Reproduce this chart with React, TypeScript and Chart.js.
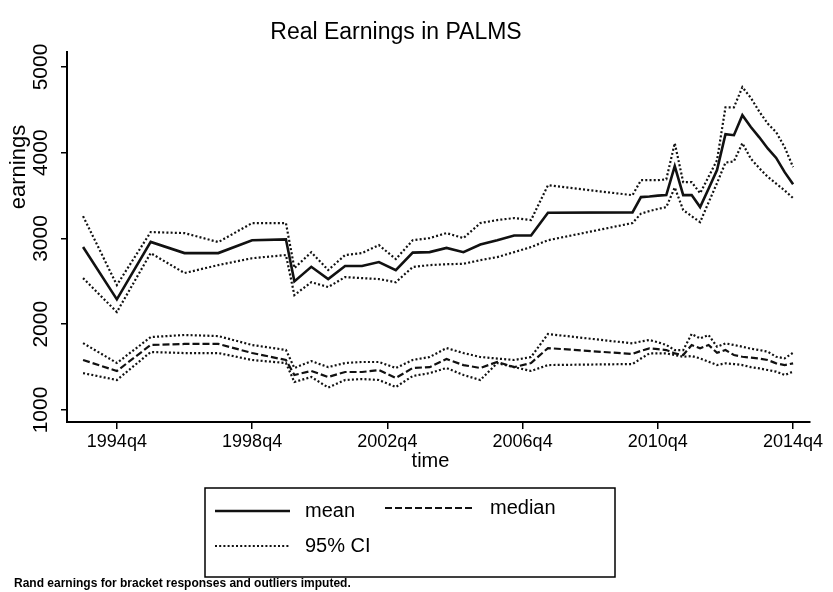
import React, { useEffect, useRef } from "react";
import { Chart, registerables } from "chart.js";

Chart.register(...registerables);

// ---------- data ----------
const periods = [
  "1993q4", "1994q4", "1995q4", "1996q4", "1997q4", "1998q4", "1999q4",
  "2000q1", "2000q3", "2001q1", "2001q3", "2002q1", "2002q3", "2003q1", "2003q3",
  "2004q1", "2004q3", "2005q1", "2005q3", "2006q1", "2006q3", "2007q1", "2007q3",
  "2010q1", "2010q2", "2010q3", "2010q4", "2011q1", "2011q2", "2011q3", "2011q4",
  "2012q1", "2012q2", "2012q3", "2012q4", "2013q1", "2013q2", "2013q3", "2013q4",
  "2014q1", "2014q2", "2014q3", "2014q4",
];

const meanEarnings = [
  2900, 2290, 2960, 2830, 2830, 2980, 2990,
  2500, 2670, 2527, 2680, 2680, 2725, 2632, 2835, 2841, 2890, 2840, 2930, 2980, 3035, 3035, 3300,
  3305, 3483, 3490, 3500, 3506, 3844, 3506, 3506, 3366, 3580, 3797, 4217, 4205, 4438, 4300, 4180, 4050, 3940, 3774, 3634,
];
const meanUpper95 = [
  3261, 2457, 3075, 3063, 2958, 3180, 3180,
  2655, 2840, 2632, 2807, 2830, 2923, 2760, 2980, 3005, 3063, 3005, 3180, 3215, 3238, 3215, 3622,
  3505, 3680, 3680, 3680, 3690, 4112, 3657, 3657, 3529, 3720, 3914, 4530, 4530, 4765, 4640, 4480, 4340, 4240, 4065, 3832,
];
const meanLower95 = [
  2538, 2142, 2830, 2597, 2690, 2770, 2807,
  2340, 2490, 2434, 2550, 2538, 2527, 2490, 2667, 2690, 2700, 2705, 2748, 2783, 2841, 2900, 2980,
  3180, 3290, 3320, 3345, 3366, 3595, 3331, 3260, 3191, 3420, 3646, 3885, 3900, 4112, 3930, 3820, 3720, 3640, 3560, 3471,
];
const medianEarnings = [
  1583, 1455, 1758, 1770, 1770, 1665, 1583,
  1408, 1455, 1385, 1443, 1443, 1466, 1373, 1490, 1500, 1594, 1524, 1490, 1560, 1500, 1548, 1722,
  1653, 1690, 1719, 1710, 1699, 1660, 1641, 1758, 1719, 1758, 1668, 1699, 1641, 1621, 1610, 1600, 1583, 1544, 1524, 1544,
];
const medianUpper95 = [
  1780, 1548, 1850, 1875, 1862, 1758, 1700,
  1490, 1570, 1500, 1548, 1560, 1560, 1490, 1583, 1618, 1722, 1664, 1618, 1600, 1583, 1618, 1886,
  1777, 1800, 1816, 1790, 1758, 1699, 1699, 1886, 1835, 1874, 1738, 1777, 1758, 1738, 1715, 1699, 1680, 1621, 1602, 1668,
];
const medianLower95 = [
  1430, 1350, 1676, 1664, 1664, 1583, 1548,
  1326, 1385, 1262, 1350, 1361, 1350, 1268, 1396, 1430, 1490, 1408, 1350, 1548, 1500, 1455, 1524,
  1536, 1600, 1660, 1660, 1660, 1641, 1621, 1629, 1602, 1563, 1524, 1544, 1536, 1524, 1500, 1485, 1466, 1447, 1408, 1447,
];

const xTickLabels = ["1994q4", "1998q4", "2002q4", "2006q4", "2010q4", "2014q4"];
const yTickValues = [1000, 2000, 3000, 4000, 5000];

const titleText = "Real Earnings in PALMS";
const yTitleText = "earnings";
const xTitleText = "time";
const legendLabels = ["mean", "median", "95% CI"];
const noteText = "Rand earnings for bracket responses and outliers imputed.";

// ---------- helpers ----------
const FONT = "'Liberation Sans', Arial, Helvetica, sans-serif";
const INK = "#111";

function toQ(s: string): number {
  const [y, q] = s.split("q");
  return (Number(y) - 1960) * 4 + Number(q) - 1;
}

function series(values: number[]) {
  return periods.map((p, i) => ({ x: toQ(p), y: values[i] }));
}

const SOLID: number[] = [];
const DASHED = [7, 3];
const DOTTED = [2, 2.2];

const overlayPlugin = {
  id: "stataOverlay",
  beforeDraw(chart: any) {
    const ctx = chart.ctx;
    ctx.save();
    ctx.fillStyle = "#fff";
    ctx.fillRect(0, 0, chart.width, chart.height);
    ctx.restore();
  },
  afterDraw(chart: any) {
    const ctx: CanvasRenderingContext2D = chart.ctx;
    const area = chart.chartArea;
    ctx.save();
    ctx.fillStyle = "#000";

    // title
    ctx.font = `23px ${FONT}`;
    ctx.textAlign = "center";
    ctx.textBaseline = "alphabetic";
    ctx.fillText(titleText, 396, 39);

    // y title
    ctx.save();
    ctx.translate(19, 167);
    ctx.rotate(-Math.PI / 2);
    ctx.font = `22px ${FONT}`;
    ctx.textAlign = "center";
    ctx.textBaseline = "middle";
    ctx.fillText(yTitleText, 0, 0);
    ctx.restore();

    // x title
    ctx.font = `20px ${FONT}`;
    ctx.textAlign = "center";
    ctx.textBaseline = "alphabetic";
    ctx.fillText(xTitleText, (area.left + area.right) / 2 - 8, 467);

    // legend box
    const bx = 205, by = 488, bw = 410, bh = 89;
    ctx.lineWidth = 1.5;
    ctx.strokeStyle = "#000";
    ctx.setLineDash([]);
    ctx.strokeRect(bx, by, bw, bh);

    const ds = chart.data.datasets;
    const sample = (x1: number, x2: number, y: number, d: any) => {
      ctx.save();
      ctx.strokeStyle = d.borderColor;
      ctx.lineWidth = d.borderWidth;
      ctx.setLineDash(d.borderDash || []);
      ctx.beginPath();
      ctx.moveTo(x1, y);
      ctx.lineTo(x2, y);
      ctx.stroke();
      ctx.restore();
    };
    const meanDs = ds.find((d: any) => d.label === "mean");
    const medDs = ds.find((d: any) => d.label === "median");
    const ciDs = ds.find((d: any) => d.label === "95% CI");
    sample(215, 290, 511, meanDs);
    sample(385, 475, 508, medDs);
    sample(215, 290, 546, ciDs);

    ctx.font = `20px ${FONT}`;
    ctx.textAlign = "left";
    ctx.textBaseline = "middle";
    ctx.fillStyle = "#000";
    ctx.fillText(legendLabels[0], 305, 511);
    ctx.fillText(legendLabels[1], 490, 508);
    ctx.fillText(legendLabels[2], 305, 546);

    // footnote
    ctx.font = `bold 12px ${FONT}`;
    ctx.textAlign = "left";
    ctx.textBaseline = "alphabetic";
    ctx.fillText(noteText, 14, 587);

    ctx.restore();
  },
};

export default function App() {
  const ref = useRef<HTMLCanvasElement | null>(null);

  useEffect(() => {
    if (!ref.current) return;
    const mk = (label: string, values: number[], dash: number[], width: number, order: number) => ({
      label,
      data: series(values),
      borderColor: INK,
      backgroundColor: INK,
      borderWidth: width,
      borderDash: dash,
      pointRadius: 0,
      tension: 0,
      fill: false,
      order,
    });

    const chart = new Chart(ref.current, {
      type: "line",
      data: {
        datasets: [
          mk("mean", meanEarnings, SOLID, 2.6, 0),
          mk("median", medianEarnings, DASHED, 2.2, 1),
          mk("95% CI", meanUpper95, DOTTED, 2.2, 2),
          mk("95% CI upper (mean) lower", meanLower95, DOTTED, 2.2, 2),
          mk("95% CI median upper", medianUpper95, DOTTED, 2.2, 2),
          mk("95% CI median lower", medianLower95, DOTTED, 2.2, 2),
        ],
      },
      options: {
        animation: false,
        responsive: false,
        devicePixelRatio: 1,
        layout: { padding: { left: 0, right: 23, top: 52, bottom: 0 } },
        plugins: {
          legend: { display: false },
          title: { display: false },
          tooltip: { enabled: false },
        },
        scales: {
          x: {
            type: "linear",
            min: 133.1,
            max: 221,
            offset: false,
            afterBuildTicks: (scale: any) => {
              scale.ticks = xTickLabels.map((l) => ({ value: toQ(l) }));
            },
            afterFit: (scale: any) => {
              scale.height = 170;
            },
            grid: {
              display: true,
              drawOnChartArea: false,
              drawTicks: true,
              tickLength: 7,
              color: "#000",
              lineWidth: 1.5,
            },
            border: { display: true, color: "#000", width: 2 },
            ticks: {
              autoSkip: false,
              maxRotation: 0,
              minRotation: 0,
              padding: 2,
              color: "#000",
              font: { family: FONT, size: 18 },
              callback: (v: any) => {
                const l = xTickLabels.find((s) => toQ(s) === Number(v));
                return l || "";
              },
            },
          },
          y: {
            type: "linear",
            min: 860,
            max: 5175,
            afterBuildTicks: (scale: any) => {
              scale.ticks = yTickValues.map((v) => ({ value: v }));
            },
            afterFit: (scale: any) => {
              scale.width = 67;
            },
            grid: {
              display: true,
              drawOnChartArea: false,
              drawTicks: true,
              tickLength: 6,
              color: "#000",
              lineWidth: 1.5,
            },
            border: { display: true, color: "#000", width: 2 },
            ticks: {
              minRotation: 90,
              maxRotation: 90,
              crossAlign: "center",
              padding: -4,
              color: "#000",
              font: { family: FONT, size: 21 },
              callback: (v: any) => String(v),
            },
          },
        },
      },
      plugins: [overlayPlugin],
    });
    return () => chart.destroy();
  }, []);

  return (
    <div style={{ position: "absolute", left: 0, top: 0, width: 833, height: 592, background: "#fff" }}>
      <canvas ref={ref} width={833} height={592} style={{ display: "block", width: 833, height: 592 }} />
    </div>
  );
}
